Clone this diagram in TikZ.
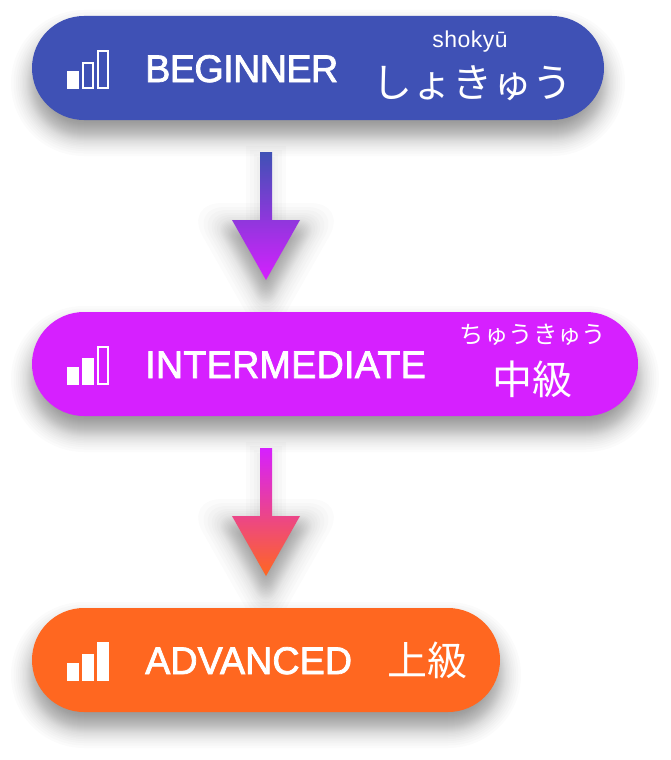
\documentclass[tikz,border=0pt]{standalone}
\usepackage{fontspec}
\setmainfont{Liberation Sans}
\newfontfamily\levelfont[FakeBold=2, FakeStretch=0.98]{Liberation Sans}
\newfontfamily\romajifont[LetterSpace=2]{Liberation Sans}
\newfontfamily\kanafont{Noto Sans CJK JP}
\usetikzlibrary{backgrounds, calc, positioning}
\definecolor{pillblue}{HTML}{3F51B5}
\definecolor{pillpurple}{HTML}{D620FF}
\definecolor{pillorange}{HTML}{FF6720}
\tikzset{
    pill/.style={minimum height=104pt, rounded corners=52pt, inner sep=0pt, outer sep=0pt},
    leveltext/.style={text=white, inner sep=0pt, font=\levelfont\fontsize{38.5}{40}\selectfont},
    kanabig/.style={text=white, inner sep=0pt, font=\kanafont\fontsize{40}{42}\selectfont},
    kanasmall/.style={text=white, inner sep=0pt, font=\kanafont\fontsize{24.4}{26}\selectfont},
    romaji/.style={text=white, inner sep=0pt, font=\romajifont\fontsize{23}{26}\selectfont},
    barfull/.style={fill=white, inner sep=0pt, outer sep=0pt, minimum width=12pt, minimum height=#1pt, anchor=south west},
    baropen/.style={draw=white, line width=2pt, inner sep=0pt, outer sep=0pt, minimum width=10pt, minimum height=#1pt-2pt, anchor=south west, xshift=1pt, yshift=1pt},
    softlayer/.style={black, opacity=0.014},
}
% blurred look: nested see-through copies
\newcommand{\pillshadow}[1]{%
    \foreach \g in {-24, -20, -17.5, -15.5, -14, -12.5, -11, -10, -9, -8, -7, -6, -5, -4, -3, -2, -1, 0, 1, 2, 3, 4, 5, 6, 7.5, 9, 10.5, 12, 14, 16, 18.5, 21} {%
        \pgfmathsetmacro{\r}{52 + \g}
        \fill [softlayer, rounded corners=\r pt]
            ($(#1.north west) + (-\g pt, \g pt - 15pt)$) rectangle ($(#1.south east) + (\g pt, -\g pt - 15pt)$);
    }
}
\newcommand{\arrowshadow}[2]{%
    \foreach \g in {0, 3, 6, 10, 14} {%
        \fill [softlayer] ($(#1) + (-6pt - \g pt, -8pt + \g pt)$) rectangle ($(#2) + (6pt + \g pt, 50pt)$);
    }
    \foreach \g in {-14, -12, -10, -9, -8, -7, -6, -5, -4, -3, -2, -1, 0, 1, 2, 3, 4, 5, 6, 7, 8, 9, 10, 11, 12, 14, 16, 18, 21, 24, 28} {%
        \pgfmathsetmacro{\r}{max(\g + 10, 0)}
        \pgfmathsetmacro{\u}{34 + 1.72 * \g}
        \pgfmathsetmacro{\v}{60 + \g - 11}
        \pgfmathsetmacro{\w}{2.03 * \g + 11}
        \fill [softlayer, rounded corners=\r pt]
            ($(#2) + (-\u pt, \v pt)$) -- ($(#2) + (\u pt, \v pt)$) -- ($(#2) + (0pt, -\w pt)$) -- cycle;
    }
}
\newcommand{\levelarrow}[4]{%
    \shade [top color=#3, bottom color=#4]
        ($(#1) + (-6pt, 0pt)$) -- ($(#1) + (6pt, 0pt)$) -- ($(#2) + (6pt, 60pt)$) -- ($(#2) + (34pt, 60pt)$)
        -- (#2) -- ($(#2) + (-34pt, 60pt)$) -- ($(#2) + (-6pt, 60pt)$) -- cycle;
}

\begin{document}
\begin{tikzpicture}[x=1pt, y=1pt]
    \useasboundingbox (0, 0) rectangle (670, -760);

    % Levels.
    \node (beginner) [pill, fill=pillblue, minimum width=572pt, anchor=north west] at (32, -16) {};
    \node (intermediate) [pill, fill=pillpurple, minimum width=606pt, below=192pt of beginner.south west, anchor=north west] {};
    \node (advanced) [pill, fill=pillorange, minimum width=468pt, below=192pt of intermediate.south west, anchor=north west] {};

    % Labels.
    \node (beginner label) [leveltext, right=113pt of beginner.west, anchor=base west, yshift=-14pt] {\addfontfeature{LetterSpace=-1.5}BEGINNER};
    \node (intermediate label) [leveltext, right=113pt of intermediate.west, anchor=base west, yshift=-14pt] {\addfontfeature{LetterSpace=0.6}INTERMEDIATE};
    \node (advanced label) [leveltext, right=113pt of advanced.west, anchor=base west, yshift=-14pt] {ADVANCED};

    % Readings.
    \node (beginner romaji) [romaji, anchor=base] at ($(beginner.west) + (438pt, 20pt)$) {shoky\=u};
    \node (beginner kana) [kanabig, anchor=center] at ($(beginner.west) + (440pt, -15pt)$) {しょきゅう};
    \node (intermediate kana) [kanasmall, anchor=center] at ($(intermediate.west) + (501pt, 29pt)$) {ちゅうきゅう};
    \node (intermediate kanji) [kanabig, anchor=center] at ($(intermediate.west) + (500pt, -15pt)$) {中級};
    \node (advanced kanji) [kanabig, anchor=center] at ($(advanced.west) + (395pt, 0pt)$) {上級};

    % Signal bars.
    \node (bar b1) [barfull=18] at ($(beginner.west) + (35pt, -21pt)$) {};
    \node (bar b2) [baropen=27] at ($(beginner.west) + (50pt, -21pt)$) {};
    \node (bar b3) [baropen=39] at ($(beginner.west) + (65pt, -21pt)$) {};
    \node (bar i1) [barfull=18] at ($(intermediate.west) + (35pt, -21pt)$) {};
    \node (bar i2) [barfull=27] at ($(intermediate.west) + (50pt, -21pt)$) {};
    \node (bar i3) [baropen=39] at ($(intermediate.west) + (65pt, -21pt)$) {};
    \node (bar a1) [barfull=18] at ($(advanced.west) + (35pt, -21pt)$) {};
    \node (bar a2) [barfull=27] at ($(advanced.west) + (50pt, -21pt)$) {};
    \node (bar a3) [barfull=39] at ($(advanced.west) + (65pt, -21pt)$) {};

    % Arrow ends.
    \coordinate (shaft 1) at ($(beginner.south west) + (234pt, -32pt)$);
    \coordinate (tip 1) at ($(intermediate.north west) + (234pt, 32pt)$);
    \coordinate (shaft 2) at ($(intermediate.south west) + (234pt, -32pt)$);
    \coordinate (tip 2) at ($(advanced.north west) + (234pt, 32pt)$);

    % Arrows.
    \levelarrow{shaft 1}{tip 1}{pillblue}{pillpurple}
    \levelarrow{shaft 2}{tip 2}{pillpurple}{pillorange}

    % Shadows.
    \begin{scope}[on background layer]
        \fill [white] (0, 0) rectangle (670, -760);
        \foreach \n in {beginner, intermediate, advanced} {
            \pillshadow{\n}
        }
        \arrowshadow{shaft 1}{tip 1}
        \arrowshadow{shaft 2}{tip 2}
    \end{scope}
\end{tikzpicture}
\end{document}
